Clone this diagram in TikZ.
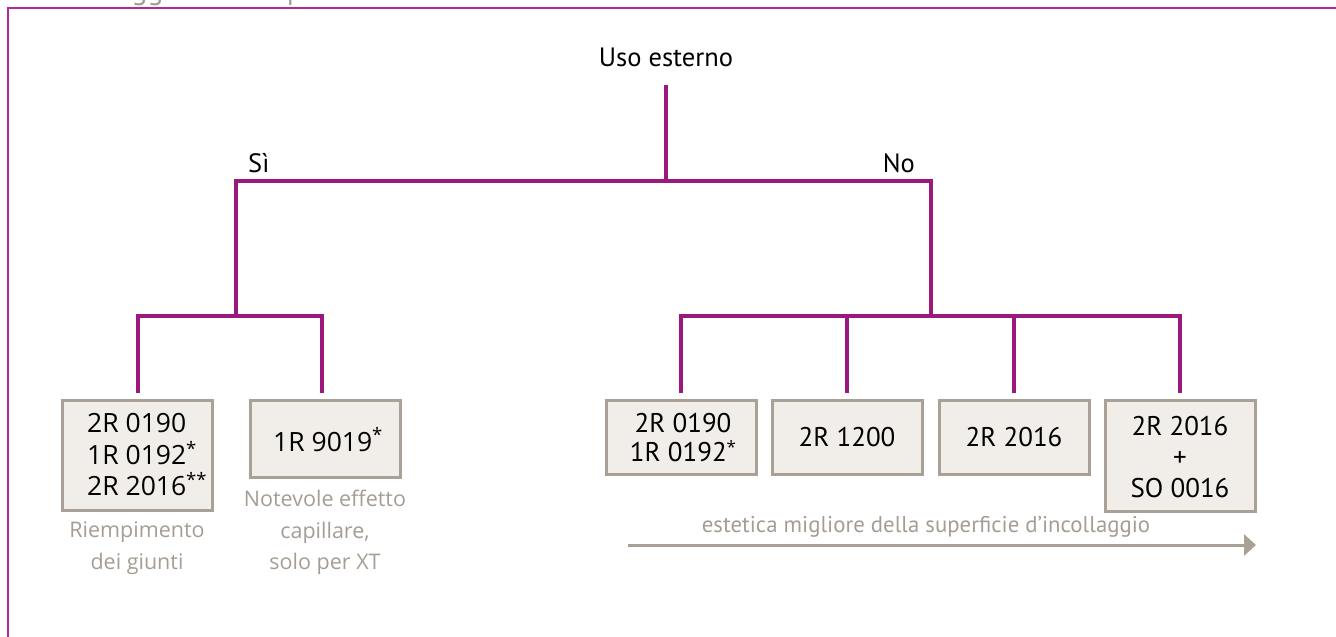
\documentclass[tikz,border=0pt]{standalone}
\usepackage{fontspec}
\setmainfont{PT Sans}
\newfontfamily\osans{Open Sans}
\usetikzlibrary{arrows.meta}
\definecolor{treecol}{RGB}{155,24,126}
\definecolor{framecol}{RGB}{178,42,152}
\definecolor{boxfill}{RGB}{241,238,233}
\definecolor{boxline}{RGB}{170,161,150}
\definecolor{graytxt}{RGB}{165,157,147}
\newcommand{\myast}{\raisebox{0.32em}{\osans\fontsize{17}{17}\selectfont *}}
\tikzset{
  tree/.style={draw=treecol, line width=3.1pt},
  frameline/.style={draw=framecol, line width=2pt},
  prodbox/.style={draw=boxline, fill=boxfill, line width=3pt, inner sep=0pt},
  prodtxt/.style={inner sep=0pt, text=black, align=center},
  notetxt/.style={inner sep=0pt, text=graytxt, align=center, font=\osans\fontsize{21.5}{31.5}\selectfont},
  headtxt/.style={inner sep=0pt, text=black, font=\fontsize{26.5}{30}\selectfont},
  garrow/.style={draw=boxline, line width=3pt, -{Triangle[length=12pt,width=21pt]}}
}
\begin{document}
\begin{tikzpicture}[x=1pt,y=-1pt]
\useasboundingbox (0,0) rectangle (1336,637);
% cut-off title and frame
\node[inner sep=0pt, anchor=base west, text=graytxt, font=\fontsize{30}{30}\selectfont] (title) at (99,-1) {Suggerimento prodotti};
\draw[frameline] (8,645) -- (8,8) -- (1345,8);

% root and branch labels
\node[headtxt, anchor=base] (root) at (666,66) {Uso esterno};
\node[headtxt, anchor=base west] (si) at (248,172) {Sì};
\node[headtxt, anchor=base east] (no) at (915,172) {No};

% boxes
\node[prodbox, minimum width=150pt, minimum height=110pt] (b1) at (137,455) {};
\node[prodbox, minimum width=150pt, minimum height=77pt] (b2) at (325,438.5) {};
\node[prodbox, minimum width=150pt, minimum height=74pt] (b3) at (681,437) {};
\node[prodbox, minimum width=150pt, minimum height=74pt] (b4) at (847,437) {};
\node[prodbox, minimum width=150pt, minimum height=74pt] (b5) at (1014,437) {};
\node[prodbox, minimum width=150pt, minimum height=111pt] (b6) at (1180,455.5) {};

% box texts
\node[prodtxt, align=left, anchor=west, font=\osans\fontsize{26.5}{31.5}\selectfont] (t1) at (87,455)
  {2R 0190\\1R 0192\textsuperscript{*}\\2R 2016\textsuperscript{**}};
\node[prodtxt, anchor=base west, font=\osans\fontsize{26.5}{31.5}\selectfont] (t2) at (273,451) {1R 9019\textsuperscript{*}};
\node[prodtxt, font=\fontsize{27}{29}\selectfont] (t3) at (683,438) {2R 0190\\1R 0192\myast};
\node[prodtxt, anchor=base, font=\fontsize{27}{29}\selectfont] (t4) at (847,446) {2R 1200};
\node[prodtxt, anchor=base, font=\fontsize{27}{29}\selectfont] (t5) at (1014,446) {2R 2016};
\node[prodtxt, font=\fontsize{27}{31}\selectfont] (t6) at (1180,457) {2R 2016\\+\\SO 0016};

% notes
\node[notetxt, anchor=north] (n1) at (137,522) {Riempimento\\dei giunti};
\node[notetxt, anchor=north] (n2) at (325,490) {Notevole effetto\\capillare,\\solo per XT};
\node[inner sep=0pt, text=graytxt, anchor=base, font=\fontsize{22.8}{25}\selectfont] (n3) at (926,532)
  {estetica migliore della superficie d’incollaggio};

% tree coordinates
\coordinate (r0) at (666,85);
\coordinate (r1) at (666,181);
\coordinate (ys) at (236,181);
\coordinate (nn) at (931,181);
\coordinate (ys2) at (236,316);
\coordinate (nn2) at (931,316);
\coordinate (c1) at (138,393);
\coordinate (c2) at (322,393);
\coordinate (c3) at (681,393);
\coordinate (c4) at (847,393);
\coordinate (c5) at (1014,393);
\coordinate (c6) at (1180,393);

\draw[tree] (r0) -- (r1);
\draw[tree] (ys2) -- (ys) -- (nn) -- (nn2);
\draw[tree] (c1) |- (ys2) -| (c2);
\draw[tree] (c3) |- (nn2) -| (c6);
\draw[tree] (c4) -- (c4 |- nn2);
\draw[tree] (c5) -- (c5 |- nn2);

% arrow
\coordinate (a0) at (628,545);
\coordinate (a1) at (1256,545);
\draw[garrow] (a0) -- (a1);
\end{tikzpicture}
\end{document}
